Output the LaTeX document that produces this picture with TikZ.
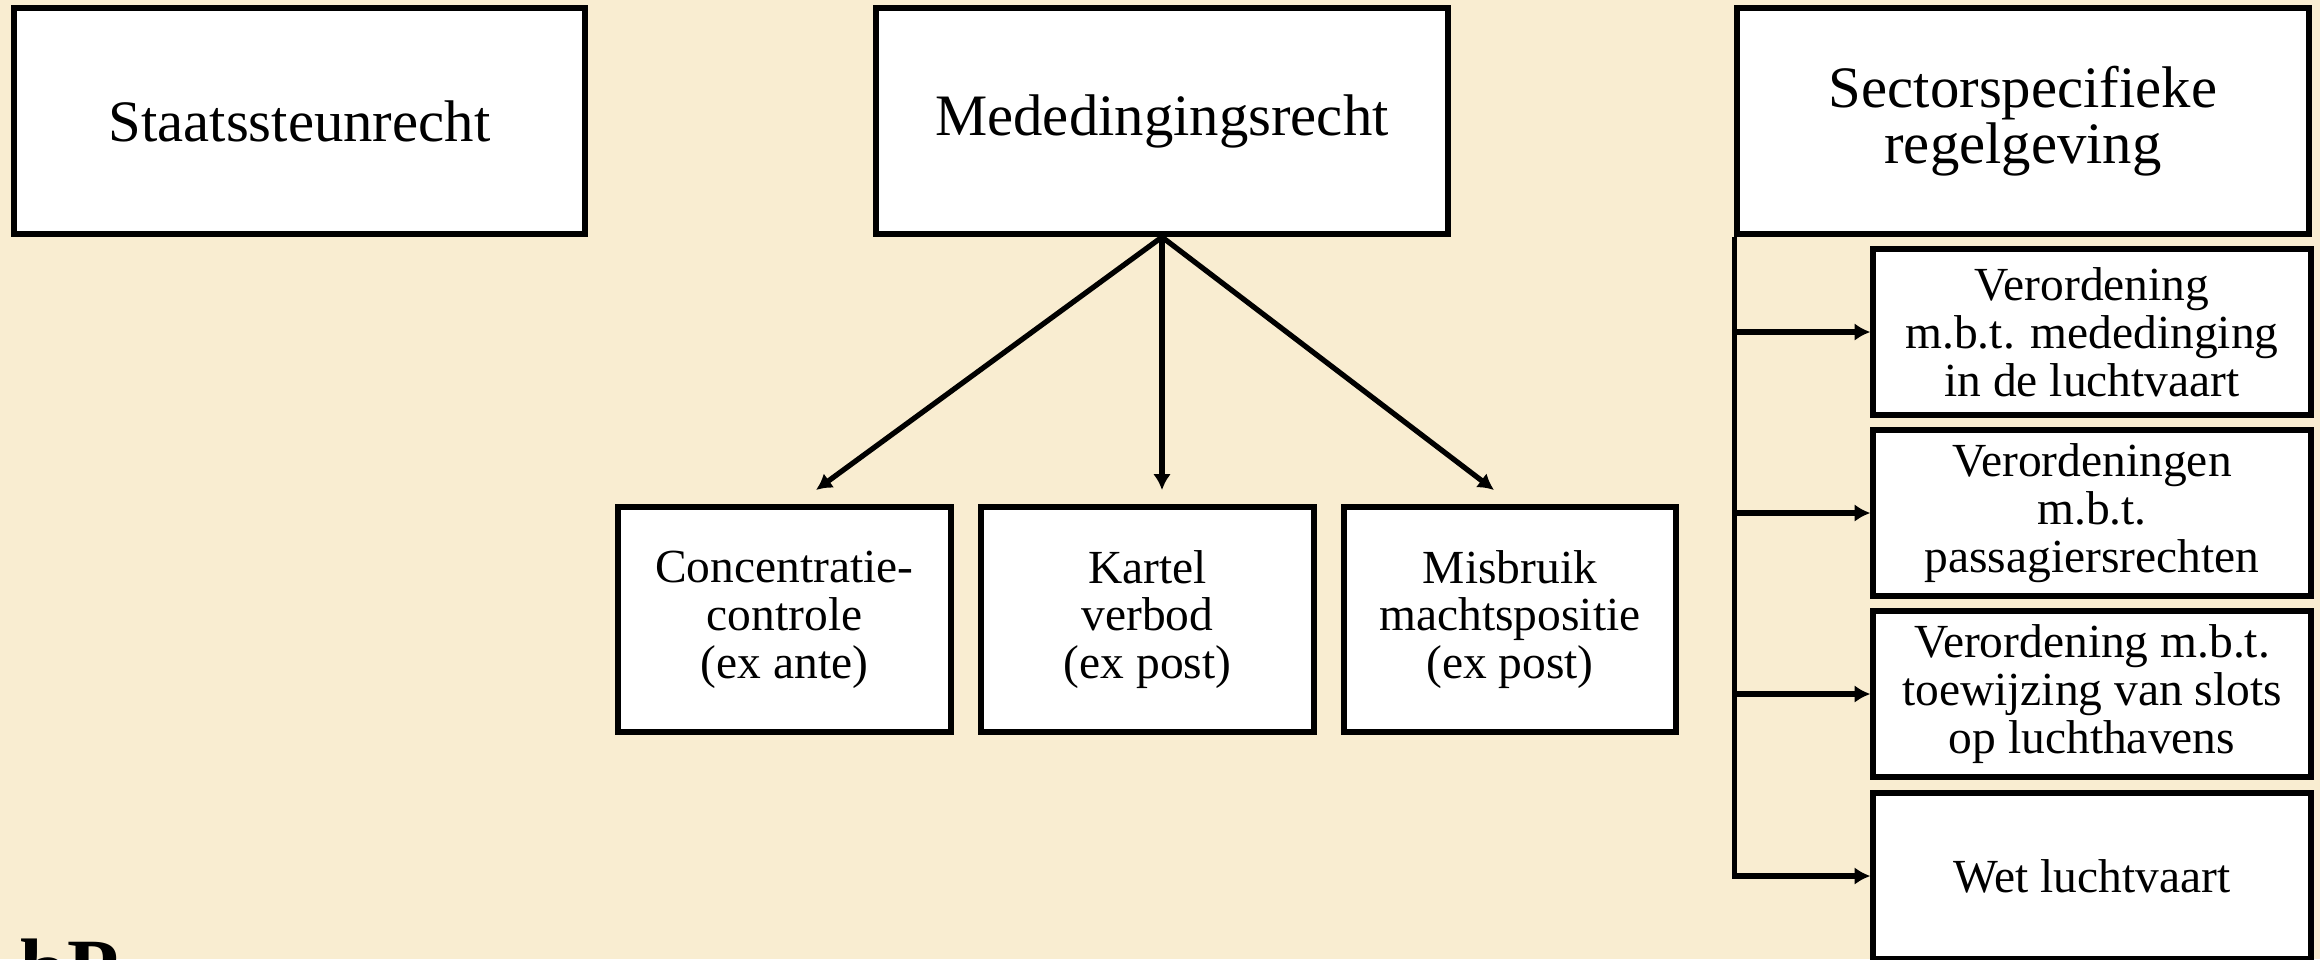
\documentclass[tikz,border=0pt]{standalone}
\usepackage{fontspec}
\setmainfont{Liberation Serif}
\usetikzlibrary{arrows.meta}
\definecolor{achtergrond}{HTML}{F9EDD1}

\begin{document}
\begin{tikzpicture}[x=0.01cm, y=-0.01cm,
        hoofdvak/.style={draw, line width=1.7pt, fill=white, align=center,
            minimum width=5.71cm, minimum height=2.26cm,
            font=\fontsize{16.7}{16}\selectfont},
        deelvak/.style={draw, line width=1.7pt, fill=white, align=center,
            minimum width=3.32cm, minimum height=2.25cm,
            font=\fontsize{13.5}{13.6}\selectfont},
        regelvak/.style={deelvak, minimum width=4.37cm, minimum height=1.66cm},
        pijl/.style={line width=1.5pt, -{Latex[length=4.5pt,width=5pt]}}
    ]
    \fill[achtergrond] (0,0) rectangle (2320,959);
    \useasboundingbox (0,0) rectangle (2320,959);

    % bovenste rij
    \node[hoofdvak] (staatssteun) at (299.5,121) {Staatssteunrecht};
    \node[hoofdvak] (mede) at (1162,121) {Mededingingsrecht};
    \node[hoofdvak] (sector) at (2023,121) {Sectorspecifieke\\regelgeving};

    % mededingingsrecht
    \node[deelvak] (conc) at (784.5,619.5) {Concentratie-\\controle\\(ex ante)};
    \node[deelvak] (kartel) at (1147.5,619.5) {Kartel\\verbod\\(ex post)};
    \node[deelvak] (misbruik) at (1510,619.5) {Misbruik\\machtspositie\\(ex post)};

    \coordinate (punt conc) at (816,490);
    \coordinate (punt kartel) at (1162,490);
    \coordinate (punt misbruik) at (1494,490);
    \draw[pijl] (mede.south) -- (punt conc);
    \draw[pijl] (mede.south) -- (punt kartel);
    \draw[pijl] (mede.south) -- (punt misbruik);

    % sectorspecifieke regelgeving
    \node[regelvak] (regel1) at (2092,332) {Verordening\\m.b.t. mededinging\\in de luchtvaart};
    \node[regelvak] (regel2) at (2092,513) {Verordeningen\\m.b.t.\\passagiersrechten};
    \node[regelvak] (regel3) at (2092,694) {Verordening m.b.t.\\toewijzing van slots\\op luchthavens};
    \node[regelvak] (regel4) at (2092,876) {Wet luchtvaart};

    \draw[pijl] (sector.south west) |- (regel4.west);
    \draw[pijl] (sector.south west |- regel1.west) -- (regel1.west);
    \draw[pijl] (sector.south west |- regel2.west) -- (regel2.west);
    \draw[pijl] (sector.south west |- regel3.west) -- (regel3.west);

    \node[anchor=base west, inner sep=0pt, font=\bfseries\fontsize{24}{24}\selectfont]
        (logo) at (20,997) {bP};
\end{tikzpicture}
\end{document}
